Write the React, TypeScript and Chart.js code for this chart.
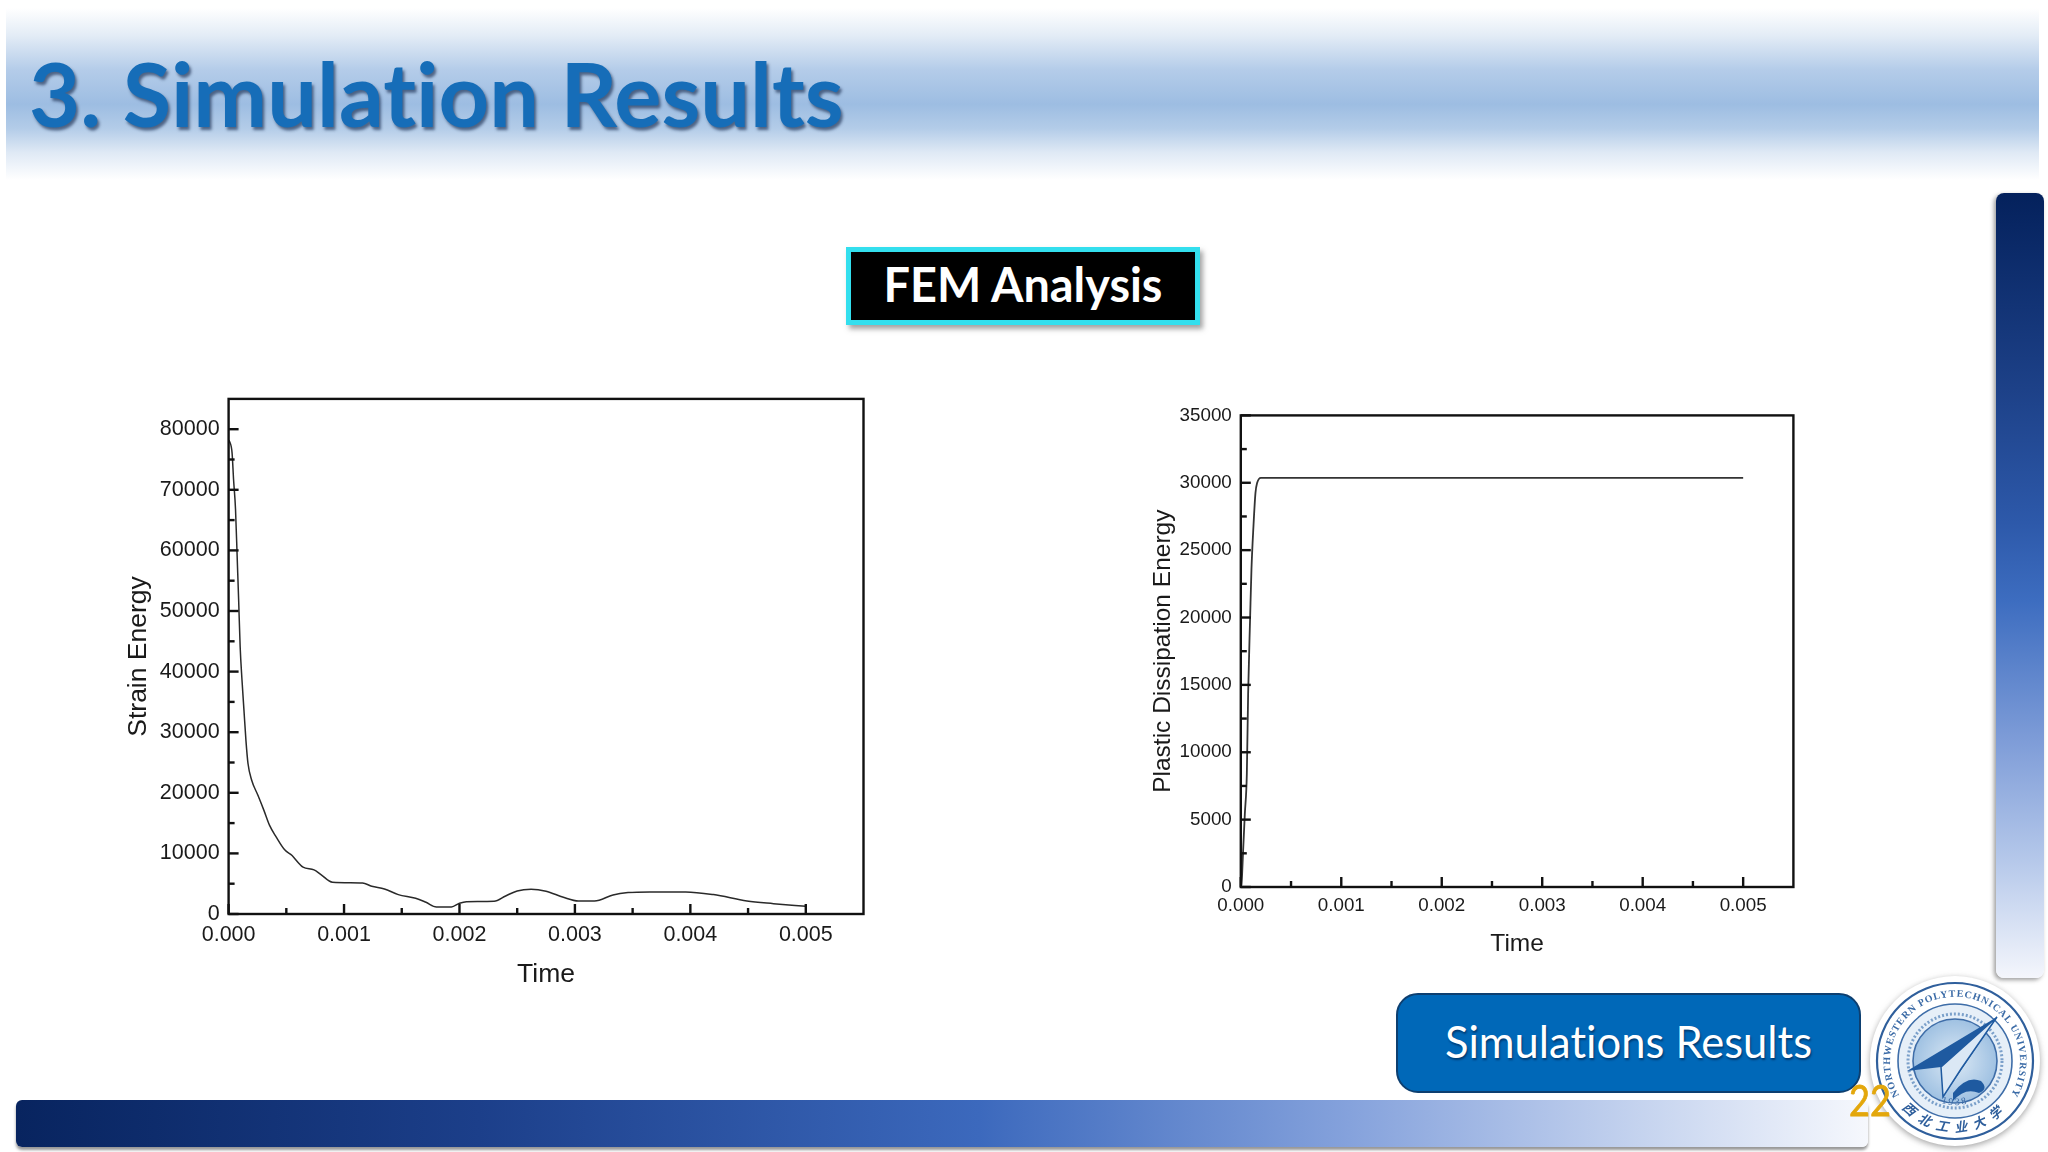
import { useEffect, useRef } from "react";
import { Chart, registerables } from "chart.js";

Chart.register(...registerables);

// strain energy curve
const strainTime = [
  0, 0.00001, 0.00003, 0.000043, 0.00006, 0.000075, 0.000087, 0.0001, 0.000116, 0.000133, 0.00015, 0.000168,
  0.0002, 0.000254, 0.000306, 0.000355, 0.000413, 0.000486, 0.00055, 0.0006, 0.000645, 0.00074, 0.0008, 0.0009,
  0.00116, 0.00124, 0.00135, 0.00147, 0.00162, 0.00171, 0.0018, 0.00193, 0.002, 0.00206, 0.0023, 0.0024, 0.0025,
  0.00262, 0.00275, 0.0029, 0.00303, 0.00317, 0.00333, 0.00346, 0.00365, 0.00396, 0.0042, 0.00449, 0.00472, 0.005,
];
const strainEnergy = [
  78200, 77900, 76100, 71700, 66760, 58480, 51860, 44140, 38620, 33650, 28690, 24830,
  22070, 19590, 17100, 14620, 12690, 10590, 9660, 8550, 7720, 7280, 6510, 5240,
  5130, 4580, 4140, 3200, 2600, 1930, 1160, 1160, 1770, 2040, 2100, 2980, 3810,
  4090, 3760, 2760, 2150, 2150, 3150, 3540, 3650, 3650, 3200, 2150, 1710, 1270,
];

// plastic dissipation curve
const plasticTime = [
  0, 0.000007, 0.000013, 0.000023, 0.00004, 0.00006, 0.000073, 0.000093, 0.000106, 0.000126, 0.000146, 0.000163,
  0.0002, 0.005,
];
const plasticEnergy = [0, 200, 940, 2680, 5410, 8390, 14350, 20060, 23540, 26770, 29250, 30000, 30370, 30370];

const xTicks = [0, 0.0005, 0.001, 0.0015, 0.002, 0.0025, 0.003, 0.0035, 0.004, 0.0045, 0.005];
const xLabels = ["0.000", "", "0.001", "", "0.002", "", "0.003", "", "0.004", "", "0.005"];

const strainTicks = [
  0, 5000, 10000, 15000, 20000, 25000, 30000, 35000, 40000, 45000, 50000, 55000, 60000, 65000, 70000, 75000, 80000,
];
const strainLabels = [
  "0", "", "10000", "", "20000", "", "30000", "", "40000", "", "50000", "", "60000", "", "70000", "", "80000",
];

const plasticTicks = [
  0, 2500, 5000, 7500, 10000, 12500, 15000, 17500, 20000, 22500, 25000, 27500, 30000, 32500, 35000,
];
const plasticLabels = [
  "0", "", "5000", "", "10000", "", "15000", "", "20000", "", "25000", "", "30000", "", "35000",
];

const AXIS_FONT = "'Liberation Sans', Arial, sans-serif";
const SLIDE_FONT = "Lato, 'Open Sans', sans-serif";

type PlotProps = {
  left: number;
  top: number;
  width: number;
  height: number;
  padTop: number;
  padRight: number;
  yWidth: number;
  xHeight: number;
  xs: number[];
  ys: number[];
  yMax: number;
  yTicks: number[];
  yLabels: string[];
  yTitle: string;
  tickSize: number;
  titleSize: number;
  yTitlePad: number;
  xTitlePad: number;
  lineWidth: number;
  lineColor: string;
};

function Plot(p: PlotProps) {
  const ref = useRef<HTMLCanvasElement>(null);

  useEffect(() => {
    if (!ref.current) return;

    // box around the plot and inward ticks, origin style
    const frame = {
      id: "frame",
      afterDatasetsDraw(chart: any) {
        const { ctx, chartArea: a, scales } = chart;
        ctx.save();
        ctx.strokeStyle = "#111";
        ctx.lineWidth = 2.4;
        ctx.strokeRect(a.left, a.top, a.right - a.left, a.bottom - a.top);
        xTicks.forEach((v, i) => {
          const px = scales.x.getPixelForValue(v);
          ctx.beginPath();
          ctx.moveTo(px, a.bottom);
          ctx.lineTo(px, a.bottom - (i % 2 === 0 ? 10 : 6));
          ctx.stroke();
        });
        p.yTicks.forEach((v, i) => {
          const py = scales.y.getPixelForValue(v);
          ctx.beginPath();
          ctx.moveTo(a.left, py);
          ctx.lineTo(a.left + (i % 2 === 0 ? 10 : 6), py);
          ctx.stroke();
        });
        ctx.restore();
      },
    };

    const chart = new Chart(ref.current, {
      type: "line",
      data: {
        datasets: [
          {
            data: p.xs.map((x, i) => ({ x, y: p.ys[i] })),
            borderColor: p.lineColor,
            borderWidth: p.lineWidth,
            pointRadius: 0,
            cubicInterpolationMode: "monotone",
          },
        ],
      },
      options: {
        animation: false,
        responsive: false,
        layout: { padding: { top: p.padTop, right: p.padRight, left: 0, bottom: 0 } },
        plugins: { legend: { display: false }, tooltip: { enabled: false } },
        scales: {
          x: {
            type: "linear",
            min: 0,
            max: 0.0055,
            grid: { display: false, drawTicks: false },
            border: { display: false },
            afterBuildTicks: (s: any) => {
              s.ticks = xTicks.map((value) => ({ value }));
            },
            afterFit: (s: any) => {
              s.height = p.xHeight;
            },
            ticks: {
              autoSkip: false,
              maxRotation: 0,
              padding: 8,
              color: "#1a1a1a",
              font: { family: AXIS_FONT, size: p.tickSize },
              callback: (_v: any, i: number) => xLabels[i],
            },
            title: {
              display: true,
              text: "Time",
              color: "#1a1a1a",
              padding: p.xTitlePad,
              font: { family: AXIS_FONT, size: p.titleSize },
            },
          },
          y: {
            type: "linear",
            min: 0,
            max: p.yMax,
            grid: { display: false, drawTicks: false },
            border: { display: false },
            afterBuildTicks: (s: any) => {
              s.ticks = p.yTicks.map((value) => ({ value }));
            },
            afterFit: (s: any) => {
              s.width = p.yWidth;
            },
            ticks: {
              autoSkip: false,
              padding: 9,
              color: "#1a1a1a",
              font: { family: AXIS_FONT, size: p.tickSize },
              callback: (_v: any, i: number) => p.yLabels[i],
            },
            title: {
              display: true,
              text: p.yTitle,
              color: "#1a1a1a",
              padding: p.yTitlePad,
              font: { family: AXIS_FONT, size: p.titleSize },
            },
          },
        },
      },
      plugins: [frame],
    } as any);

    return () => chart.destroy();
  }, []);

  return (
    <canvas
      ref={ref}
      width={p.width}
      height={p.height}
      style={{ position: "absolute", left: p.left, top: p.top, width: p.width, height: p.height }}
    />
  );
}

function Seal() {
  return (
    <svg
      width={176}
      height={176}
      viewBox="-88 -88 176 176"
      style={{ position: "absolute", left: 1867, top: 973, filter: "drop-shadow(0 2px 3px rgba(90,90,90,.55))" }}
    >
      <defs>
        <path id="sealTop" d="M -51 41 A 65 65 0 1 1 51 41" />
        <path id="sealBottom" d="M -54 46 A 71 71 0 0 0 54 46" />
        <path id="sealYear" d="M -28 34 A 44 44 0 0 0 28 34" />
        <radialGradient id="sealFill">
          <stop offset="0%" stopColor="#dce9f5" />
          <stop offset="100%" stopColor="#9fc1e2" />
        </radialGradient>
      </defs>
      <circle r={85} fill="#fff" />
      <circle r={78} fill="none" stroke="#2f5f9c" strokeWidth={2.2} />
      <circle r={57} fill="#e6eff8" stroke="#3e6da8" strokeWidth={1.6} />
      <circle r={47} fill="none" stroke="#7ba0ca" strokeWidth={3} strokeDasharray="2 2" />
      <circle r={42} fill="url(#sealFill)" stroke="#3e6da8" strokeWidth={1.6} />
      <text fontFamily="'Liberation Serif', serif" fontWeight={700} fontSize={10} fill="#3a6aa6" letterSpacing={0.9}>
        <textPath href="#sealTop" startOffset="50%" textAnchor="middle">
          NORTHWESTERN POLYTECHNICAL UNIVERSITY
        </textPath>
      </text>
      <text
        fontFamily="'Noto Sans CJK SC', sans-serif"
        fontWeight={700}
        fontStyle="italic"
        fontSize={13}
        fill="#2f5f9c"
        letterSpacing={7}
      >
        <textPath href="#sealBottom" startOffset="50%" textAnchor="middle">
          西北工业大学
        </textPath>
      </text>
      <text fontFamily="'Liberation Serif', serif" fontSize={10} fill="#3a6aa6" letterSpacing={2}>
        <textPath href="#sealYear" startOffset="50%" textAnchor="middle">
          1938
        </textPath>
      </text>
      <path d="M 42 -44 L -48 10 L -14 6 L -12 36 Z" fill="#1f5aa0" />
      <path d="M 42 -44 L -14 6 L -12 36 L 6 8 Z" fill="#dbe8f5" stroke="#1f5aa0" strokeWidth={1.5} />
      <path d="M -2 32 Q 12 14 26 20 Q 34 28 24 32 Q 10 26 -2 40 Z" fill="#1f5aa0" />
    </svg>
  );
}

export default function App() {
  return (
    <div style={{ position: "relative", width: 2048, height: 1152, overflow: "hidden", background: "#fff" }}>
      <style>{"body{margin:0}"}</style>

      {/* header band */}
      <div
        style={{
          position: "absolute",
          left: 6,
          top: 8,
          width: 2033,
          height: 172,
          background:
            "linear-gradient(180deg,#ffffff 0%,#e3ecf6 16%,#b4cce9 36%,#9dbde2 56%,#b3cce8 70%,#dfe9f5 84%,#ffffff 100%)",
        }}
      />
      <div
        style={{
          position: "absolute",
          left: 29,
          top: 36,
          fontFamily: SLIDE_FONT,
          fontWeight: 700,
          fontSize: 88.3,
          lineHeight: "114px",
          color: "#166db8",
          fontVariantLigatures: "none",
          textShadow: "2px 3px 3px rgba(25,45,80,.65)",
          whiteSpace: "nowrap",
        }}
      >
        3. Simulation Results
      </div>

      {/* FEM tag */}
      <div
        style={{
          position: "absolute",
          left: 846,
          top: 247,
          width: 354,
          height: 78,
          boxSizing: "border-box",
          background: "#000",
          border: "5px solid #33dfee",
          boxShadow: "3px 4px 5px rgba(90,90,90,.55)",
          color: "#fff",
          fontFamily: SLIDE_FONT,
          fontWeight: 700,
          fontSize: 46.8,
          lineHeight: "64px",
          textAlign: "center",
        }}
      >
        FEM Analysis
      </div>

      <Plot
        left={100}
        top={377}
        width={790}
        height={623}
        padTop={0}
        padRight={26.5}
        yWidth={128.6}
        xHeight={86}
        xs={strainTime}
        ys={strainEnergy}
        yMax={85000}
        yTicks={strainTicks}
        yLabels={strainLabels}
        yTitle="Strain Energy"
        tickSize={21.5}
        titleSize={26.5}
        yTitlePad={23}
        xTitlePad={9.5}
        lineWidth={1.5}
        lineColor="#2a2a2a"
      />
      <Plot
        left={1120}
        top={390}
        width={700}
        height={590}
        padTop={25.4}
        padRight={26.6}
        yWidth={120.8}
        xHeight={93}
        xs={plasticTime}
        ys={plasticEnergy}
        yMax={35000}
        yTicks={plasticTicks}
        yLabels={plasticLabels}
        yTitle="Plastic Dissipation Energy"
        tickSize={18.8}
        titleSize={24.5}
        yTitlePad={29}
        xTitlePad={21}
        lineWidth={1.8}
        lineColor="#333"
      />

      {/* side bar */}
      <div
        style={{
          position: "absolute",
          left: 1996,
          top: 193,
          width: 48,
          height: 785,
          borderRadius: 8,
          boxShadow: "-2px 2px 4px rgba(90,90,90,.6)",
          background:
            "linear-gradient(180deg,#04215c 0%,#1d4188 25%,#2d59aa 42%,#3d6dc0 52%,#7f9dd8 70%,#b5c8ea 85%,#f4f6fc 100%)",
        }}
      />

      {/* bottom bar */}
      <div
        style={{
          position: "absolute",
          left: 16,
          top: 1100,
          width: 1852,
          height: 47,
          borderRadius: 6,
          boxShadow: "0 3px 3px rgba(80,80,80,.6)",
          background: "linear-gradient(90deg,#08245f 0%,#1c3f8a 25%,#3c69bd 52%,#85a2dc 72%,#c6d4ef 88%,#f6f8fd 100%)",
        }}
      />

      <div
        style={{
          position: "absolute",
          left: 1396,
          top: 993,
          width: 465,
          height: 100,
          boxSizing: "border-box",
          borderRadius: 22,
          border: "2px solid #0d3f70",
          background: "#0068b8",
          color: "#fff",
          fontFamily: SLIDE_FONT,
          fontSize: 43.5,
          lineHeight: "92px",
          textAlign: "center",
          fontVariantLigatures: "none",
          textShadow: "1px 2px 2px rgba(0,30,70,.6)",
        }}
      >
        Simulations Results
      </div>

      <Seal />

      <div
        style={{
          position: "absolute",
          left: 1849,
          top: 1073,
          fontFamily: SLIDE_FONT,
          fontSize: 43,
          lineHeight: "54px",
          color: "#e3a70c",
          WebkitTextStroke: "0.8px #e3a70c",
          transform: "scaleX(0.84)",
          transformOrigin: "left",
        }}
      >
        22
      </div>
    </div>
  );
}
